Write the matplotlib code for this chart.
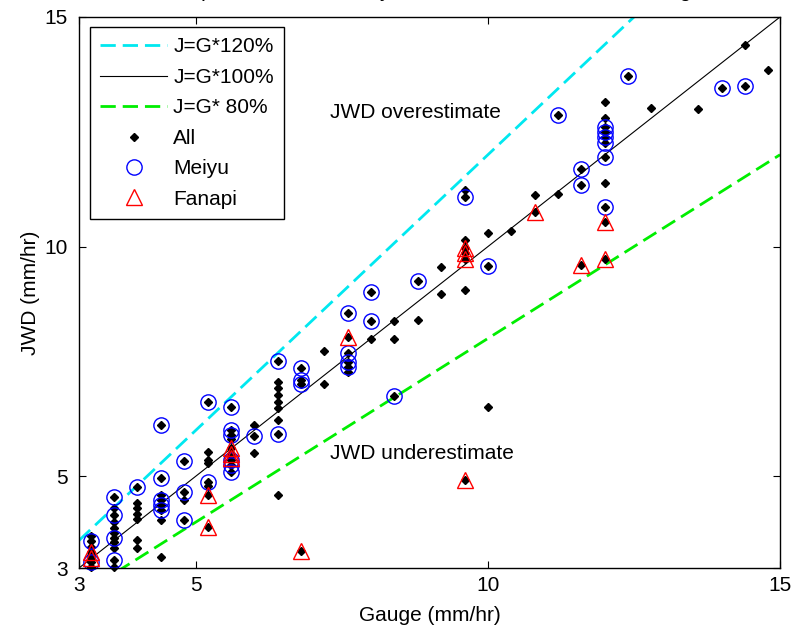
import numpy as np
import matplotlib
matplotlib.use("Agg")
import matplotlib.pyplot as plt
from matplotlib.lines import Line2D

plt.rcParams['font.family'] = ['Liberation Sans', 'DejaVu Sans']

# gauge vs JWD hourly rain rate (mm/hr)
other_gauge = [3.2, 3.2, 3.2, 3.2,
               3.6, 3.6, 3.6, 3.6, 3.6, 3.6, 3.6,
               4.0, 4.0, 4.0, 4.0, 4.0, 4.0,
               4.4, 4.4, 4.4,
               4.8,
               5.2, 5.2, 5.2, 5.2,
               5.6,
               6.0, 6.0,
               6.4, 6.4, 6.4, 6.4, 6.4, 6.4, 6.4,
               7.2, 7.2,
               7.6,
               8.0,
               8.4, 8.4,
               8.8,
               9.2, 9.2,
               9.6, 9.6, 9.6,
               10.0, 10.0,
               10.4,
               10.8,
               11.2,
               12.0, 12.0, 12.0,
               12.8, 13.6, 14.4, 14.8]
other_jwd = [3.70, 3.45, 3.28, 3.02,
             4.31, 4.01, 3.87, 3.76, 3.57, 3.44, 3.02,
             4.42, 4.30, 4.18, 4.06, 3.61, 3.43,
             4.59, 4.05, 3.25,
             4.48,
             5.53, 5.35, 5.29, 4.79,
             5.80,
             6.11, 5.51,
             7.06, 6.91, 6.77, 6.62, 6.48, 6.22, 4.59,
             7.73, 7.00,
             7.27,
             7.98,
             8.37, 7.98,
             8.40,
             9.56, 8.97,
             11.23, 10.14, 9.06,
             10.29, 6.51,
             10.35,
             11.12,
             11.14,
             13.14, 12.80, 11.38,
             13.01, 13.00, 14.38, 13.84]

meiyu_gauge = [3.2, 3.2,
               3.6, 3.6, 3.6, 3.6,
               4.0,
               4.4, 4.4, 4.4, 4.4, 4.4,
               4.8, 4.8, 4.8,
               5.2, 5.2,
               5.6, 5.6, 5.6, 5.6, 5.6, 5.6,
               6.0,
               6.4, 6.4,
               6.8, 6.8, 6.8,
               7.6, 7.6, 7.6, 7.6,
               8.0, 8.0,
               8.4,
               8.8,
               9.6,
               10.0,
               11.2,
               11.6, 11.6,
               12.0, 12.0, 12.0, 12.0, 12.0, 12.0,
               12.4, 14.0, 14.4]
meiyu_jwd = [3.58, 3.12,
             4.55, 4.15, 3.65, 3.17,
             4.77,
             6.11, 4.97, 4.48, 4.37, 4.26,
             5.33, 4.66, 4.05,
             6.62, 4.88,
             6.51, 6.00, 5.90, 5.35, 5.24, 5.10,
             5.87,
             7.51, 5.92,
             7.35, 7.09, 7.00,
             8.55, 7.68, 7.49, 7.38,
             9.02, 8.39,
             6.75,
             9.26,
             11.09,
             9.58,
             12.86,
             11.68, 11.35,
             12.61, 12.50, 12.39, 12.26, 11.96, 10.87,
             13.71, 13.46, 13.50]

fanapi_gauge = [3.2, 3.2, 5.2, 5.2, 5.6, 5.6, 5.6, 6.8, 7.6,
                9.6, 9.6, 9.6, 9.6, 10.8, 11.6, 12.0, 12.0]
fanapi_jwd = [3.35, 3.22, 4.59, 3.90, 5.61, 5.48, 5.39, 3.37, 8.04,
              9.96, 9.85, 9.74, 4.92, 10.76, 9.60, 10.54, 9.72]

all_gauge = other_gauge + meiyu_gauge + fanapi_gauge
all_jwd = other_jwd + meiyu_jwd + fanapi_jwd

ratios = [1.2, 1.0, 0.8]
ratio_labels = ['J=G*120%', 'J=G*100%', 'J=G* 80%']

fig = plt.figure(figsize=(7.94, 6.33), dpi=100)
ax = fig.add_axes([79/794, 1 - 568/633, 701/794, 551/633])

g = np.linspace(3, 15, 200)
ax.plot(g, g * ratios[0], color='#00e8f0', lw=2, dashes=(5.5, 2.5))
ax.plot(g, g * ratios[1], color='black', lw=0.8)
ax.plot(g, g * ratios[2], color='#00ee00', lw=2, dashes=(5.5, 2.5))

ax.plot(all_gauge, all_jwd, 'D', color='black', ms=4, ls='none', clip_on=False)
ax.plot(meiyu_gauge, meiyu_jwd, 'o', mfc='none', mec='blue', mew=1, ms=11,
        ls='none', clip_on=False)
ax.plot(fanapi_gauge, fanapi_jwd, '^', mfc='none', mec='red', mew=1, ms=11,
        ls='none', clip_on=False)

ax.set_xlim(3, 15)
ax.set_ylim(3, 15)
ax.set_xticks([3, 5, 10, 15])
ax.set_yticks([3, 5, 10, 15])
ax.tick_params(direction='in', length=5, top=True, right=True, labelsize=15)
ax.tick_params(axis='y', pad=8)
ax.tick_params(axis='x', pad=6)
for s in ax.spines.values():
    s.set_linewidth(1)
ax.set_xlabel('Gauge (mm/hr)', fontsize=15, labelpad=8)
ax.set_ylabel('JWD (mm/hr)', fontsize=15, labelpad=3)

ax.text(7.3, 12.93, 'JWD overestimate', fontsize=15, va='center')
ax.text(7.3, 5.50, 'JWD underestimate', fontsize=15, va='center')

# title is cut off by the top of the figure, only descenders show
fig.text(0.541, 1 + 3/633, 'Comparison of the hourly rainfall between JWD and Gauge',
         fontsize=15, ha='center', va='baseline')

handles = [
    Line2D([], [], color='#00e8f0', lw=2, dashes=(5.5, 2.5)),
    Line2D([], [], color='black', lw=0.8),
    Line2D([], [], color='#00ee00', lw=2, dashes=(5.5, 2.5)),
    Line2D([], [], marker='D', color='black', ms=4, ls='none'),
    Line2D([], [], marker='o', mfc='none', mec='blue', ms=11, ls='none'),
    Line2D([], [], marker='^', mfc='none', mec='red', ms=11, ls='none'),
]
labels = ratio_labels + ['All', 'Meiyu', 'Fanapi']
leg = ax.legend(handles, labels, loc='upper left', bbox_to_anchor=(11/701, 1 - 10/551),
                borderaxespad=0, fontsize=15, handlelength=3.2, handletextpad=0.3,
                labelspacing=0.55, fancybox=False, framealpha=1, edgecolor='black',
                borderpad=0.5)
leg.get_frame().set_linewidth(1)

fig.savefig('out.png', dpi=100)
